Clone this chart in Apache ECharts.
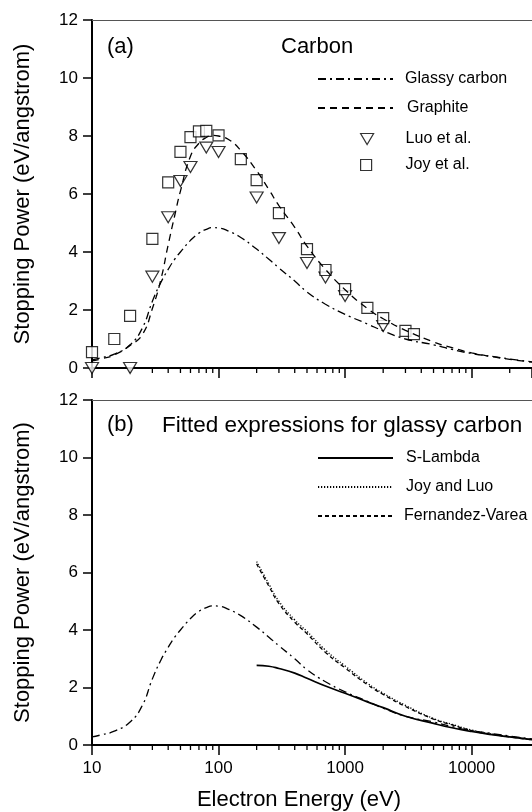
<!DOCTYPE html>
<html><head><meta charset="utf-8">
<script src="https://cdn.jsdelivr.net/npm/echarts@6/dist/echarts.min.js"></script>
<style>html,body{margin:0;padding:0;background:#fff}#chart{width:532px;height:812px}</style>
</head><body><div id="chart"></div>
<script>
// ---- data ----
const energy = [10,12,15,20,25,30,35,40,45,50,60,70,80,90,100,120,150,200,250,300,400,500,700,1000,1500,2000,3000,5000,7000,10000,15000,20000,30000];
const glassyCarbon = [0.28,0.36,0.48,0.8,1.38,2.3,2.95,3.4,3.75,4.0,4.4,4.65,4.78,4.84,4.83,4.72,4.5,4.1,3.75,3.45,3.0,2.62,2.2,1.85,1.52,1.28,1.0,0.8,0.64,0.5,0.39,0.31,0.21];
const graphite = [0.25,0.32,0.45,0.78,1.15,2.05,3.05,4.25,5.25,6.1,7.3,7.75,7.95,8.02,8.0,7.88,7.5,6.8,6.15,5.6,4.85,4.2,3.4,2.7,2.05,1.7,1.3,0.9,0.7,0.52,0.38,0.3,0.2];
const luoEnergy = [10,20,30,40,50,60,80,100,200,300,500,700,1000,2000];
const luoStopping = [0,0,3.15,5.2,6.45,6.93,7.6,7.45,5.88,4.48,3.62,3.12,2.48,1.45];
const joyEnergy = [10,15,20,30,40,50,60,70,80,100,150,200,300,500,700,1000,1500,2000,3000,3500];
const joyStopping = [0.55,1.0,1.8,4.45,6.4,7.45,7.96,8.16,8.18,8.02,7.2,6.48,5.34,4.1,3.38,2.72,2.07,1.72,1.28,1.17];
const fitEnergy = [200,250,300,400,500,700,1000,1500,2000,3000,5000,7000,10000,15000,20000,30000];
const sLambda = [2.77,2.74,2.66,2.5,2.32,2.05,1.8,1.5,1.3,1.0,0.75,0.6,0.47,0.35,0.28,0.19];
const joyLuoFit = [6.38,5.6,5.0,4.35,3.95,3.3,2.75,2.15,1.8,1.38,0.92,0.72,0.52,0.37,0.29,0.19];
const fernandezVarea = [6.3,5.52,4.92,4.27,3.87,3.22,2.68,2.1,1.76,1.34,0.9,0.7,0.5,0.36,0.28,0.18];
const minorTickValues = [20,30,40,50,60,70,80,90,200,300,400,500,600,700,800,900,2000,3000,4000,5000,6000,7000,8000,9000,20000];

const FONT = "'Liberation Sans', Arial, sans-serif";
const zip = (xs, ys) => xs.map((x, i) => [x, ys[i]]);

function xAxisMain(grid, showLabels) {
  const a = {
    gridIndex: grid, type: 'log', logBase: 10, min: 10, max: 30000, splitNumber: 4,
    axisLine: {show: true, onZero: false, lineStyle: {color: '#000', width: 2}},
    axisTick: {show: true, length: 10, lineStyle: {color: '#000', width: 1.5}},
    axisLabel: {show: showLabels, fontSize: 17, color: '#000', fontFamily: FONT, margin: 15,
      showMaxLabel: false, formatter: v => String(Math.round(v))},
    splitLine: {show: false}
  };
  if (showLabels) {
    a.name = 'Electron Energy (eV)';
    a.nameLocation = 'middle';
    a.nameGap = 44;
    a.nameTextStyle = {fontSize: 22, color: '#000', fontFamily: FONT, padding: [0, 26, 0, 0]};
  }
  return a;
}
function xAxisFrame(grid) {
  return {gridIndex: grid, type: 'log', logBase: 10, min: 10, max: 30000, position: 'top',
    axisLine: {show: true, onZero: false, lineStyle: {color: '#555', width: 1}},
    axisTick: {show: false}, axisLabel: {show: false}, splitLine: {show: false}};
}
function yAxis(grid) {
  return {gridIndex: grid, type: 'value', min: 0, max: 12, interval: 2,
    axisLine: {show: true, onZero: false, lineStyle: {color: '#000', width: 2}},
    axisTick: {show: true, length: 9, lineStyle: {color: '#000', width: 1.5}},
    axisLabel: {fontSize: 17, color: '#000', fontFamily: FONT, margin: 14},
    splitLine: {show: false},
    name: 'Stopping Power (eV/angstrom)', nameLocation: 'middle', nameGap: 58,
    nameTextStyle: {fontSize: 22, color: '#000', fontFamily: FONT}};
}
function minorTicks(xi, yi) {
  return {type: 'custom', xAxisIndex: xi, yAxisIndex: yi, silent: true, clip: false,
    data: minorTickValues.map(v => [v, 0]), encode: {x: 0, y: 1},
    renderItem: (params, api) => {
      const p = api.coord([api.value(0), 0]);
      return {type: 'line', shape: {x1: p[0], y1: p[1], x2: p[0], y2: p[1] + 5},
        style: {stroke: '#000', lineWidth: 1.3}};
    }};
}
const lineBase = (name, xi, yi, data, type, width) => ({
  name, type: 'line', xAxisIndex: xi, yAxisIndex: yi, data, smooth: true, symbol: 'none', showSymbol: false,
  lineStyle: {color: '#000', width, type}, itemStyle: {color: '#000'}
});
const txt = {fontSize: 16, color: '#000', fontFamily: FONT};
function legendLine(name, top, padLeft) {
  return {data: [name], left: 317, top, itemWidth: 75, itemHeight: 14, padding: 0,
    selectedMode: false, itemStyle: {opacity: 0},
    textStyle: Object.assign({padding: [0, 0, 0, padLeft]}, txt)};
}
function legendSym(name, top, left, w, h, padLeft, icon) {
  return {data: [{name, icon}], left, top, itemWidth: w, itemHeight: h, padding: 0,
    selectedMode: false,
    itemStyle: {color: '#fff', borderColor: '#000', borderWidth: 1.2},
    textStyle: Object.assign({padding: [0, 0, 0, padLeft]}, txt)};
}
const titleStyle = {fontSize: 22, fontWeight: 'normal', color: '#000', fontFamily: FONT};

const option = {
  animation: false,
  backgroundColor: '#fff',
  grid: [
    {left: 92, top: 20, right: 0, height: 348},
    {left: 92, top: 400, right: 0, height: 347}
  ],
  xAxis: [xAxisMain(0, false), xAxisFrame(0), xAxisMain(1, true), xAxisFrame(1)],
  yAxis: [yAxis(0), yAxis(1)],
  title: [
    {text: '(a)', left: 107, top: 36, padding: 0, textStyle: titleStyle},
    {text: 'Carbon', left: 281, top: 36, padding: 0, textStyle: titleStyle},
    {text: '(b)', left: 107, top: 414, padding: 0, textStyle: titleStyle},
    {text: 'Fitted expressions for glassy carbon', left: 162, top: 414, padding: 0,
      textStyle: Object.assign({}, titleStyle, {fontSize: 22.5})}
  ],
  legend: [
    legendLine('Glassy carbon', 71, 7),
    legendLine('Graphite', 100, 9),
    legendSym('Luo et al.', 131, 360, 13, 11, 27, 'path://M0,0 L26,0 L13,22 Z'),
    legendSym('Joy et al.', 157, 360, 11, 11, 29, 'rect'),
    legendLine('S-Lambda', 450, 8),
    legendLine('Joy and Luo', 479, 8),
    legendLine('Fernandez-Varea', 508, 6)
  ],
  series: [
    lineBase('Glassy carbon', 0, 0, zip(energy, glassyCarbon), [8, 4, 2, 4], 1.3),
    lineBase('Graphite', 0, 0, zip(energy, graphite), [7, 5], 1.3),
    {name: 'Luo et al.', type: 'scatter', xAxisIndex: 0, yAxisIndex: 0, clip: false,
      data: zip(luoEnergy, luoStopping), symbol: 'triangle', symbolRotate: 180, symbolSize: [13, 11],
      itemStyle: {color: '#fff', borderColor: '#000', borderWidth: 1.2}},
    {name: 'Joy et al.', type: 'scatter', xAxisIndex: 0, yAxisIndex: 0, clip: false,
      data: zip(joyEnergy, joyStopping), symbol: 'rect', symbolSize: 11,
      itemStyle: {color: '#fff', borderColor: '#000', borderWidth: 1.2}},
    lineBase('Glassy carbon (b)', 2, 1, zip(energy, glassyCarbon), [8, 4, 2, 4], 1.3),
    lineBase('S-Lambda', 2, 1, zip(fitEnergy, sLambda), 'solid', 1.7),
    lineBase('Joy and Luo', 2, 1, zip(fitEnergy, joyLuoFit), [1.2, 1.8], 1.3),
    lineBase('Fernandez-Varea', 2, 1, zip(fitEnergy, fernandezVarea), [4, 3], 1.3),
    minorTicks(0, 0),
    minorTicks(2, 1)
  ]
};
const chart = echarts.init(document.getElementById('chart'), null, {renderer: 'canvas'});
chart.setOption(option);
</script>
</body></html>
